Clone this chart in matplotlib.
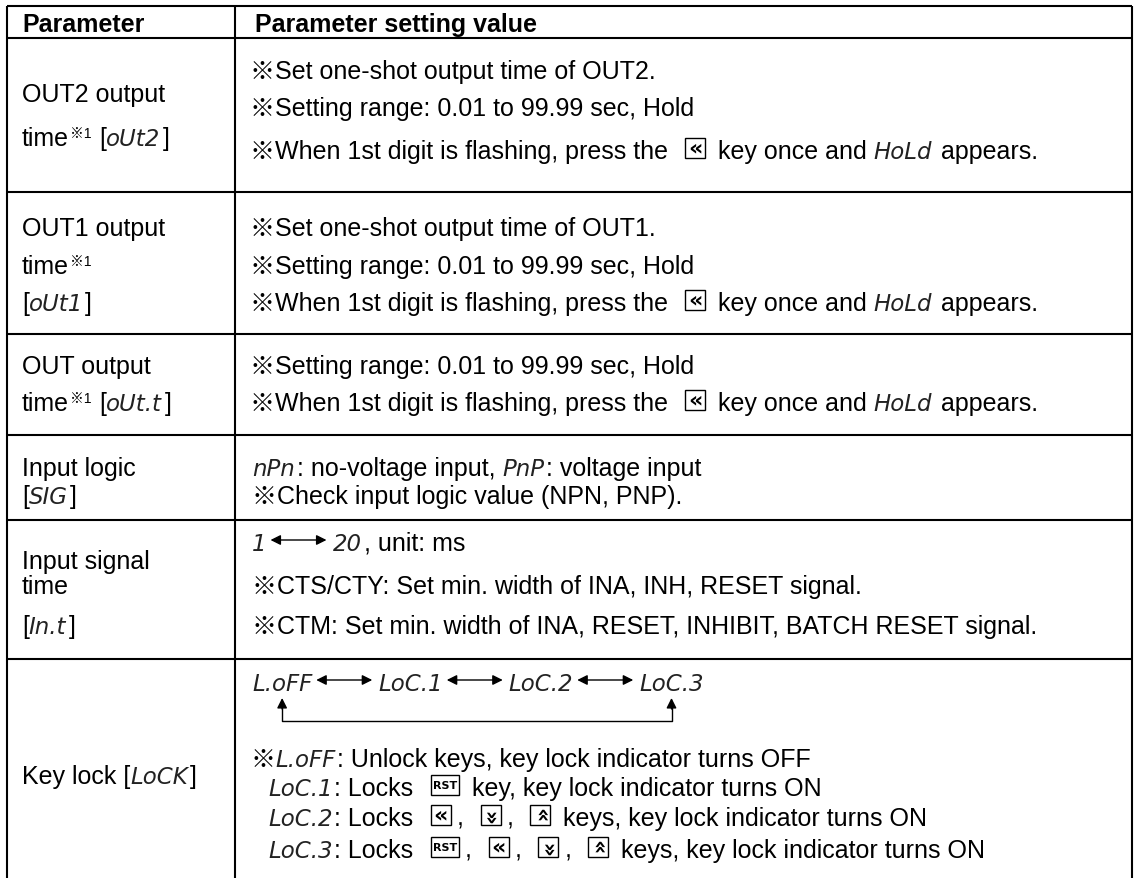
import re
import matplotlib
matplotlib.use('Agg')
import matplotlib.pyplot as plt
from matplotlib.patches import Rectangle

W, H = 1139, 879

# ---- table content ----
header = ['Parameter', 'Parameter setting value']

param_lines = [
    ['OUT2 output', 'time{SUP:※1} [{SEG:oUt2}]'],
    ['OUT1 output', 'time{SUP:※1}', '[{SEG:oUt1}]'],
    ['OUT output', 'time{SUP:※1} [{SEG:oUt.t}]'],
    ['Input logic', '[{SEG:SIG}]'],
    ['Input signal', 'time', '[{SEG:In.t}]'],
    ['Key lock [{SEG:LoCK}]'],
]

setting_lines = [
    ['※Set one-shot output time of OUT2.',
     '※Setting range: 0.01 to 99.99 sec, Hold',
     '※When 1st digit is flashing, press the {KEY:left} key once and {SEG:HoLd} appears.'],
    ['※Set one-shot output time of OUT1.',
     '※Setting range: 0.01 to 99.99 sec, Hold',
     '※When 1st digit is flashing, press the {KEY:left} key once and {SEG:HoLd} appears.'],
    ['※Setting range: 0.01 to 99.99 sec, Hold',
     '※When 1st digit is flashing, press the {KEY:left} key once and {SEG:HoLd} appears.'],
    ['{SEG:nPn}: no-voltage input, {SEG:PnP}: voltage input',
     '※Check input logic value (NPN, PNP).'],
    ['{SEG:1}{ARR:}{SEG:20}, unit: ms',
     '※CTS/CTY: Set min. width of INA, INH, RESET signal.',
     '※CTM: Set min. width of INA, RESET, INHIBIT, BATCH RESET signal.'],
    ['{SEG:L.oFF}{ARR:}{SEG:LoC.1}{ARR:}{SEG:LoC.2}{ARR:}{SEG:LoC.3}',
     '※{SEG:L.oFF}: Unlock keys, key lock indicator turns OFF',
     '{SEG:LoC.1}: Locks {KEY:RST} key, key lock indicator turns ON',
     '{SEG:LoC.2}: Locks {KEY:left}, {KEY:down}, {KEY:up} keys, key lock indicator turns ON',
     '{SEG:LoC.3}: Locks {KEY:RST}, {KEY:left}, {KEY:down}, {KEY:up} keys, key lock indicator turns ON'],
]

# ---- layout (pixels) ----
X_LEFT, X_DIV, X_RIGHT, Y_TOP = 7, 235, 1132, 7
row_edges = [39, 193, 335, 436, 521, 660]
param_y = [[93, 137], [227, 265, 302], [365, 402], [467, 495], [560, 585, 625], [775]]
setting_y = [[70, 107, 150], [227, 265, 302], [365, 402], [467, 495],
             [542, 585, 625], [682, 758, 787, 817, 849]]
setting_x = [[250] * 3, [250] * 3, [250] * 2, [252] * 2, [252] * 3,
             [252, 250, 268, 268, 268]]
LOOP_Y, LOOP_TIP = 722, 699

FS = 18
EM = FS * 100 / 72
BODY = dict(fontsize=FS, family=['Liberation Sans', 'Noto Sans CJK JP', 'DejaVu Sans'])
SEG = dict(fontsize=16.5, family='DejaVu Sans', style='oblique', color='#222222')
SUP = dict(fontsize=10, family=['Liberation Sans', 'Noto Sans CJK JP', 'DejaVu Sans'])
KEY_BOX, RST_W, KEY_L, KEY_R = 20, 28, 10, 6
ARR_LEN = 56

fig = plt.figure(figsize=(W / 100, H / 100), dpi=100)
ax = fig.add_axes([0, 0, 1, 1])
ax.set_xlim(0, W)
ax.set_ylim(H, 0)
ax.axis('off')
renderer = fig.canvas.get_renderer()

TOKEN = re.compile(r'\{(\w+):([^}]*)\}')


def parse(line):
    runs, pos = [], 0
    for m in TOKEN.finditer(line):
        if m.start() > pos:
            runs.append(('TXT', line[pos:m.start()]))
        runs.append((m.group(1), m.group(2)))
        pos = m.end()
    if pos < len(line):
        runs.append(('TXT', line[pos:]))
    return runs


def advance(s, kw):
    # width incl. spaces: measure between two bars
    t = ax.text(0, 0, '|' + s + '|', **kw)
    w1 = t.get_window_extent(renderer).width
    t.set_text('||')
    w2 = t.get_window_extent(renderer).width
    t.remove()
    return w1 - w2


def draw_key(x, yc, kind):
    w = RST_W if kind == 'RST' else KEY_BOX
    ax.add_patch(Rectangle((x, yc - KEY_BOX / 2 - 1), w, KEY_BOX, fill=False, lw=1.0, ec='black'))
    if kind == 'RST':
        ax.text(x + w / 2, yc - 1, 'RST', fontsize=8, fontweight='bold',
                family='DejaVu Sans', ha='center', va='center')
    else:
        rot = {'left': 0, 'down': 90, 'up': -90}[kind]
        ax.text(x + w / 2, yc - 1.5, '«', fontsize=16, fontweight='bold',
                family='DejaVu Sans', ha='center', va='center', rotation=rot,
                rotation_mode='anchor')
    return w


def draw_line(x, yc, line):
    base = yc + 0.36 * EM
    segs = []
    for kind, val in parse(line):
        if kind == 'TXT':
            lead = len(val) - len(val.lstrip(' '))
            body = val.strip(' ')
            if body:
                ax.text(x + advance(' ' * lead, BODY), base, body, va='baseline', **BODY)
            x += advance(val, BODY)
        elif kind == 'SEG':
            ax.text(x, base, val, va='baseline', **SEG)
            w = advance(val, SEG)
            segs.append((x, x + w))
            x += w + 2
        elif kind == 'SUP':
            ax.text(x + 1, base - 8, val, va='baseline', **SUP)
            x += advance(val, SUP) + 2
        elif kind == 'KEY':
            x += KEY_L
            x += draw_key(x, yc, val) + KEY_R
        elif kind == 'ARR':
            x0, x1 = x + 2, x + 2 + ARR_LEN
            ax.annotate('', xy=(x1, yc - 1), xytext=(x0, yc - 1),
                        arrowprops=dict(arrowstyle='<|-|>', color='black', lw=1.0,
                                        mutation_scale=15, shrinkA=0, shrinkB=0))
            x = x1 + 6
    return segs


# ---- grid ----
LW = 1.5
ax.hlines([Y_TOP] + row_edges, X_LEFT, X_RIGHT, colors='black', lw=LW)
ax.vlines([X_LEFT, X_DIV, X_RIGHT], Y_TOP, H, colors='black', lw=LW)

# ---- header ----
hy = 23 + 0.36 * EM
ax.text(22, hy, header[0], fontweight='bold', va='baseline', **BODY)
ax.text(255, hy, header[1], fontweight='bold', va='baseline', **BODY)

# ---- body ----
for lines, ys in zip(param_lines, param_y):
    for line, y in zip(lines, ys):
        draw_line(22, y, line)

loop_segs = None
for r, (lines, ys, xs) in enumerate(zip(setting_lines, setting_y, setting_x)):
    for i, (line, y, x) in enumerate(zip(lines, ys, xs)):
        segs = draw_line(x, y, line)
        if r == len(setting_lines) - 1 and i == 0:
            loop_segs = segs

# return loop under the key-lock cycle
xa = (loop_segs[0][0] + loop_segs[0][1]) / 2
xb = (loop_segs[-1][0] + loop_segs[-1][1]) / 2
ax.plot([xa, xa, xb, xb], [LOOP_TIP + 8, LOOP_Y, LOOP_Y, LOOP_TIP + 8], color='black', lw=1.0)
for xx in (xa, xb):
    ax.annotate('', xy=(xx, LOOP_TIP), xytext=(xx, LOOP_TIP + 11),
                arrowprops=dict(arrowstyle='-|>', color='black', lw=1.0,
                                mutation_scale=15, shrinkA=0, shrinkB=0))

fig.savefig('out.png', dpi=100)
